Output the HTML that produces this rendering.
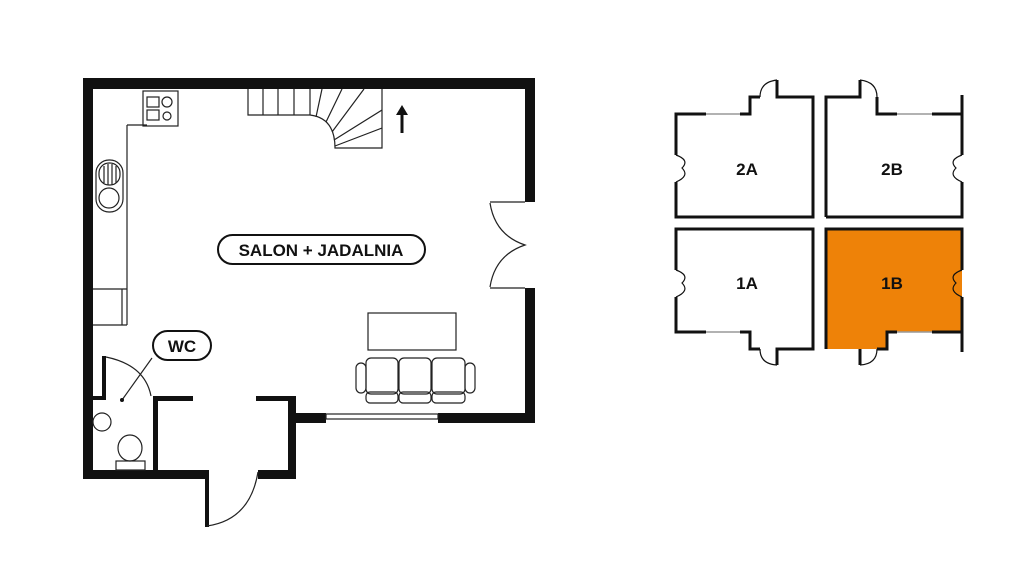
<!DOCTYPE html>
<html><head><meta charset="utf-8"><style>
html,body{margin:0;padding:0;background:#fff;}
svg{display:block}
text{font-family:"Liberation Sans",sans-serif;font-weight:bold;}
</style></head><body>
<svg width="1024" height="562" viewBox="0 0 1024 562" xmlns="http://www.w3.org/2000/svg">
<rect width="1024" height="562" fill="#fff"/>
<g fill="#111">
 <!-- outer walls -->
 <rect x="83" y="78" width="452" height="11"/>
 <rect x="83" y="78" width="10" height="401"/>
 <rect x="525" y="78" width="10" height="124"/>
 <rect x="525" y="288" width="10" height="135"/>
 <rect x="438" y="413" width="97" height="10"/>
 <rect x="290" y="413" width="36" height="10"/>
 <rect x="288" y="396" width="8" height="83"/>
 <rect x="83" y="470" width="124" height="9"/>
 <rect x="258" y="470" width="38" height="9"/>
 <!-- vestibule -->
 <rect x="153" y="396" width="5" height="76"/>
 <rect x="153" y="396" width="40" height="5"/>
 <rect x="256" y="396" width="38" height="5"/>
 <!-- WC wall -->
 <rect x="102" y="356" width="4" height="44"/>
 <rect x="93" y="396" width="13" height="4"/>
 <!-- entry door leaf -->
 <rect x="205" y="470" width="4" height="57"/>
</g>
<g fill="none" stroke="#222" stroke-width="1.2">
 <!-- window bottom -->
 <rect x="326" y="414" width="112" height="5"/>
 <!-- entry door arc -->
 <path d="M207 526 Q250 520 258 472"/>
 <!-- WC door arc -->
 <path d="M106 357 Q145 365 151 396"/>
 <path d="M122 400 L152 358"/>
 <!-- right double door -->
 <path d="M490 202 L525 202 M490 288 L525 288"/>
 <path d="M490 203 Q495 235 525 245 Q495 255 490 287"/>
 <!-- kitchen counter -->
 <path d="M127 125 L127 325 M127 125 L147 125 M93 289 L127 289 M93 325 L127 325 M122 289 L122 325"/>
 <rect x="143" y="91" width="35" height="35"/>
 <rect x="147" y="97" width="12" height="10"/><rect x="147" y="110" width="12" height="10"/>
 <circle cx="167" cy="102" r="5"/><circle cx="167" cy="116" r="4"/>
 <rect x="96" y="160" width="27" height="52" rx="13"/>
 <rect x="99" y="163" width="21" height="22" rx="10"/>
 <circle cx="109" cy="198" r="10"/>
 <path d="M104 166 V183 M108 164 V185 M112 164 V185 M116 166 V183"/>
 <!-- stairs -->
 <path d="M248 89 V115 H310 Q335 118 335 148 H382 V89"/>
 <path d="M263 89 V115 M278 89 V115 M294 89 V115 M310 89 V115 M322 89 L316 117 M342 89 L326 122 M364 89 L332 132 M382 110 L334 140 M382 128 L335 146"/>
 <!-- table & sofa -->
 <rect x="368" y="313" width="88" height="37"/>
 <rect x="356" y="363" width="10" height="30" rx="5"/>
 <rect x="465" y="363" width="10" height="30" rx="5"/>
 <rect x="366" y="358" width="32" height="36" rx="5"/>
 <rect x="399" y="358" width="32" height="36" rx="5"/>
 <rect x="432" y="358" width="33" height="36" rx="5"/>
 <rect x="366" y="392" width="32" height="11" rx="4"/>
 <rect x="399" y="392" width="32" height="11" rx="4"/>
 <rect x="432" y="392" width="33" height="11" rx="4"/>
 <!-- WC fixtures -->
 <circle cx="102" cy="422" r="9"/>
 <ellipse cx="130" cy="448" rx="12" ry="13"/>
 <rect x="116" y="461" width="29" height="9"/>
</g>
<circle cx="122" cy="400" r="2" fill="#111"/>
<path d="M402 133 V113" stroke="#111" stroke-width="3"/>
<path d="M396 115 L402 105 L408 115 Z" fill="#111"/>
<!-- labels -->
<rect x="218" y="235" width="207" height="29" rx="14.5" fill="#fff" stroke="#111" stroke-width="2"/>
<text x="321" y="256" font-size="17" text-anchor="middle" fill="#111">SALON + JADALNIA</text>
<rect x="153" y="331" width="58" height="29" rx="14.5" fill="#fff" stroke="#111" stroke-width="2"/>
<text x="182" y="352" font-size="17" text-anchor="middle" fill="#111">WC</text>

<!-- mini plan -->
<path d="M826 229 H962 V332 H887 V349 H826 Z" fill="#EE8208"/>
<g fill="none" stroke="#111" stroke-width="3">
 <path d="M676 155 V114 H706 M740 114 H750 V97 H760 M777 80 V97 H813 V217 H676 V182"/>
 <path d="M826 217 V97 H860 V80 M877 97 V114 H897 M932 114 H962 M962 95 V155 M962 182 V217 H826"/>
 <path d="M676 270 V229 H813 V349 H777 V365 M760 349 H750 V332 H740 M706 332 H676 V297"/>
 <path d="M826 349 V229 H962 V270 M962 297 V352 M962 332 H932 M897 332 H887 V349 H877 M860 349 V365"/>
</g>
<g fill="none" stroke="#999" stroke-width="1.5">
 <path d="M706 114 H740 M897 114 H932 M706 332 H740 M897 332 H932"/>
</g>
<g fill="none" stroke="#111" stroke-width="1.2">
 <path d="M760 97 Q760 82 777 80 M860 80 Q877 82 877 97 M760 349 Q760 364 777 365 M860 365 Q877 364 877 349"/>
 <path d="M676 155 Q690 160 682 168 Q690 176 676 182 M676 270 Q690 275 682 283 Q690 291 676 297"/>
 <path d="M962 155 Q948 160 956 168 Q948 176 962 182 M962 270 Q948 275 956 283 Q948 291 962 297"/>
</g>
<g font-size="17" text-anchor="middle" fill="#111">
 <text x="747" y="175">2A</text><text x="892" y="175">2B</text>
 <text x="747" y="289">1A</text><text x="892" y="289">1B</text>
</g>
</svg>
</body></html>
